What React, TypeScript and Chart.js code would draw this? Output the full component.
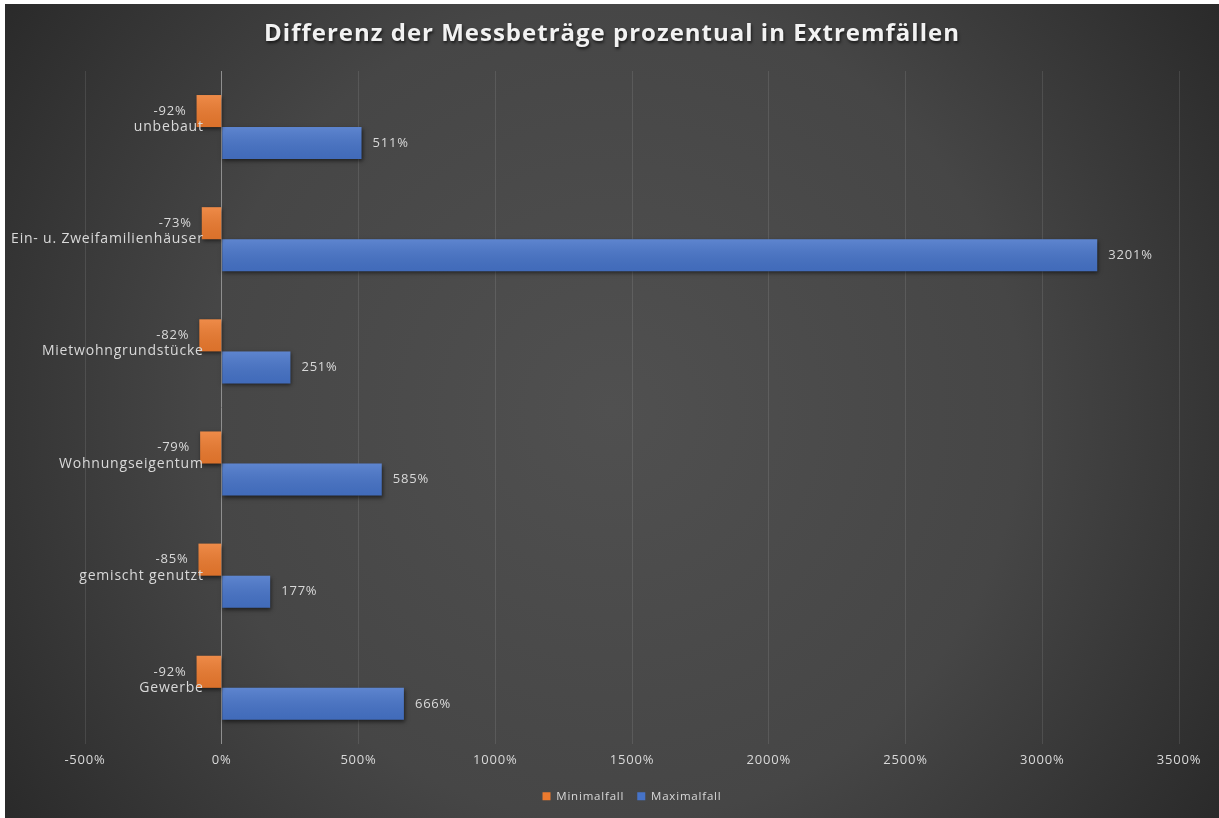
import React, { useEffect, useRef } from 'react';
import { Chart, registerables } from 'chart.js';

Chart.register(...registerables);

const TITLE = 'Differenz der Messbeträge prozentual in Extremfällen';
const categories = [
  'unbebaut',
  'Ein- u. Zweifamilienhäuser',
  'Mietwohngrundstücke',
  'Wohnungseigentum',
  'gemischt genutzt',
  'Gewerbe',
];
const seriesNames = ['Minimalfall', 'Maximalfall'];
const minimalfall = [-92, -73, -82, -79, -85, -92];
const maximalfall = [511, 3201, 251, 585, 177, 666];
const xMin = -500;
const xMax = 3500;
const xStep = 500;

const FONT = '"Open Sans", "Noto Sans", sans-serif';
const TEXT = '#d9d9d9';
const SPACING = '0.8px';

export default function App() {
  const ref = useRef<HTMLCanvasElement>(null);

  useEffect(() => {
    document.body.style.margin = '0';
    const canvas = ref.current;
    if (!canvas) return;

    const setSpacing = (chart: any) => {
      try { chart.ctx.letterSpacing = SPACING; } catch (e) {}
    };

    const overlay = {
      id: 'overlay',
      beforeInit: setSpacing,
      beforeUpdate: setSpacing,
      beforeLayout: setSpacing,
      beforeDraw: setSpacing,
      beforeDatasetsDraw(chart: any) {
        const c = chart.ctx;
        c.save();
        c.shadowColor = 'rgba(0,0,0,0.55)';
        c.shadowBlur = 4;
        c.shadowOffsetX = 1;
        c.shadowOffsetY = 2;
      },
      afterDatasetsDraw(chart: any) {
        const c = chart.ctx;
        c.restore();
        // sheen on bars
        chart.data.datasets.forEach((ds: any, di: number) => {
          const meta = chart.getDatasetMeta(di);
          meta.data.forEach((el: any) => {
            const p = el.getProps(['x', 'y', 'base', 'height'], true);
            const top = p.y - p.height / 2;
            const left = Math.min(p.x, p.base);
            const w = Math.abs(p.x - p.base);
            const g = c.createLinearGradient(0, top, 0, top + p.height);
            g.addColorStop(0, 'rgba(255,255,255,0.13)');
            g.addColorStop(1, 'rgba(0,0,0,0.07)');
            c.save();
            c.fillStyle = g;
            c.fillRect(left, top, w, p.height);
            c.restore();
          });
        });
        // data labels
        c.save();
        try { (c as any).letterSpacing = SPACING; } catch (e) {}
        c.font = `13px ${FONT}`;
        c.fillStyle = TEXT;
        c.textBaseline = 'middle';
        chart.data.datasets.forEach((ds: any, di: number) => {
          const meta = chart.getDatasetMeta(di);
          meta.data.forEach((el: any, i: number) => {
            const v = ds.data[i];
            const p = el.getProps(['x', 'y'], true);
            if (v < 0) {
              c.textAlign = 'right';
              c.fillText(`${v}%`, p.x - 10, p.y);
            } else {
              c.textAlign = 'left';
              c.fillText(`${v}%`, p.x + 11, p.y);
            }
          });
        });
        // category labels
        const xs = chart.scales.x;
        const ys = chart.scales.y;
        const x0 = xs.getPixelForValue(0);
        c.font = `14px ${FONT}`;
        c.textAlign = 'right';
        categories.forEach((cat, i) => {
          c.fillText(cat, x0 - 18, ys.getPixelForValue(i));
        });
        c.restore();
      },
      afterDraw(chart: any) {
        const c = chart.ctx;
        c.save();
        c.font = `bold 24px ${FONT}`;
        c.fillStyle = '#f2f2f2';
        c.textAlign = 'center';
        c.textBaseline = 'middle';
        try { (c as any).letterSpacing = '1px'; } catch (e) {}
        c.shadowColor = 'rgba(0,0,0,0.65)';
        c.shadowBlur = 3;
        c.shadowOffsetX = 1;
        c.shadowOffsetY = 2;
        c.fillText(TITLE, chart.width / 2, 30);
        c.restore();
      },
    };

    const chart = new Chart(canvas, {
      type: 'bar',
      data: {
        labels: categories,
        datasets: [
          {
            label: seriesNames[0],
            data: minimalfall,
            backgroundColor: '#ec7a2e',
            borderWidth: 0,
            barPercentage: 1,
            categoryPercentage: 0.5714,
          },
          {
            label: seriesNames[1],
            data: maximalfall,
            backgroundColor: '#4673c8',
            borderWidth: 0,
            barPercentage: 1,
            categoryPercentage: 0.5714,
          },
        ],
      },
      options: {
        indexAxis: 'y',
        responsive: false,
        animation: false,
        layout: { padding: { left: 80, right: 40, top: 67, bottom: 6 } },
        scales: {
          x: {
            min: xMin,
            max: xMax,
            border: { display: false },
            grid: {
              drawTicks: false,
              color: (ctx: any) =>
                ctx.tick && ctx.tick.value === 0 ? '#8f8f8f' : 'rgba(255,255,255,0.1)',
              lineWidth: 1,
            },
            ticks: {
              stepSize: xStep,
              padding: 9,
              color: TEXT,
              font: { family: FONT, size: 13 },
              callback: (v: any) => `${v}%`,
            },
          },
          y: {
            display: false,
          },
        },
        plugins: {
          title: { display: false },
          tooltip: { enabled: false },
          legend: {
            position: 'bottom',
            labels: {
              boxWidth: 8,
              boxHeight: 8,
              padding: 13,
              color: TEXT,
              font: { family: FONT, size: 11.5 },
            },
          },
        },
      },
      plugins: [overlay],
    });

    return () => chart.destroy();
  }, []);

  return (
    <div style={{ position: 'absolute', left: 0, top: 0, width: 1219, height: 818, background: '#ffffff' }}>
      <div
        style={{
          position: 'absolute',
          left: 5,
          top: 4,
          width: 1214,
          height: 814,
          background:
            'radial-gradient(circle farthest-corner at 50% 50%, #505050 0%, #464646 56%, #2a2a2a 100%)',
        }}
      >
        <canvas ref={ref} width={1214} height={814} style={{ display: 'block' }} />
      </div>
    </div>
  );
}
